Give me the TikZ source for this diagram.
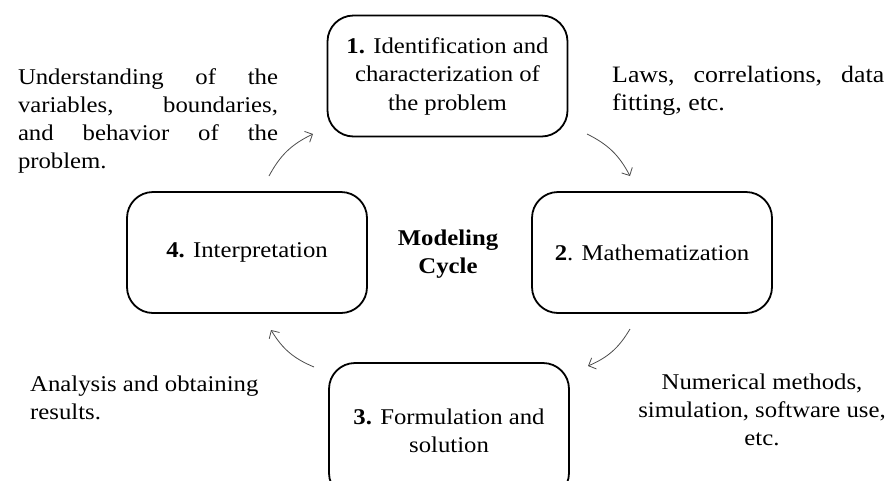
\documentclass[tikz,border=0pt]{standalone}
\usepackage{fontspec}
\setmainfont{Liberation Serif}[FakeStretch=1.1]
\usetikzlibrary{arrows.meta}
\begin{document}
\begin{tikzpicture}[x=1pt,y=-1pt,
  stagebox/.style={draw=black,line width=1.8pt,rounded corners=26pt,
    minimum width=240pt,minimum height=121pt,align=center,inner sep=0pt,
    font=\fontsize{22.5}{28.5}\selectfont},
  note/.style={inner sep=0pt,font=\fontsize{22.5}{28}\selectfont},
  cyclearrow/.style={draw=black!70,line width=0.8pt,
    -{Straight Barb[length=6pt,width=12pt]}}]
  \useasboundingbox (0,0) rectangle (894,480);
  \clip (0,0) rectangle (894,480);
  \fill[white] (0,0) rectangle (894,480);

  % the four stages of the cycle
  \node[stagebox] (b1) at (447.5,76) {\textbf{1.} Identification and\\characterization of\\the problem};
  \node[stagebox] (b2) at (652,252.5) {\textbf{2}. Mathematization};
  \node[stagebox,minimum height=136pt] (b3) at (449,431) {\textbf{3.} Formulation and\\solution};
  \node[stagebox] (b4) at (247,252.5) {\textbf{4.} Interpretation};

  % title in the middle
  \node[note,align=center,font=\bfseries\fontsize{22.5}{28}\selectfont] (title) at (448,254) {Modeling\\Cycle};

  % side notes
  \node[note,align=left] (n1) at (148,121)
    {\makebox[260pt][s]{Understanding of the}\\
     \makebox[260pt][s]{variables, boundaries,}\\
     \makebox[260pt][s]{and behavior of the}\\
     problem.};
  \node[note,align=left,anchor=west,font=\fontsize{23.5}{28}\selectfont] (n2) at (612,91)
    {\makebox[272pt][s]{Laws, correlations, data}\\fitting, etc.};
  \node[note,align=left,anchor=west] (n3) at (30,398) {Analysis and obtaining\\results.};
  \node[note,align=center] (n4) at (762,410) {Numerical methods,\\simulation, software use,\\etc.};

  % arrow ends between the stages
  \coordinate (s1) at (269,176);  \coordinate (e1) at (313,134);
  \coordinate (s2) at (587,134);  \coordinate (e2) at (630,176);
  \coordinate (s3) at (630,329);  \coordinate (e3) at (588,366);
  \coordinate (s4) at (314,367);  \coordinate (e4) at (271,330);

  \draw[cyclearrow] (s1) to[bend left=18] (e1);
  \draw[cyclearrow] (s2) to[bend left=18] (e2);
  \draw[cyclearrow] (s3) to[bend left=18] (e3);
  \draw[cyclearrow] (s4) to[bend left=18] (e4);
\end{tikzpicture}
\end{document}
